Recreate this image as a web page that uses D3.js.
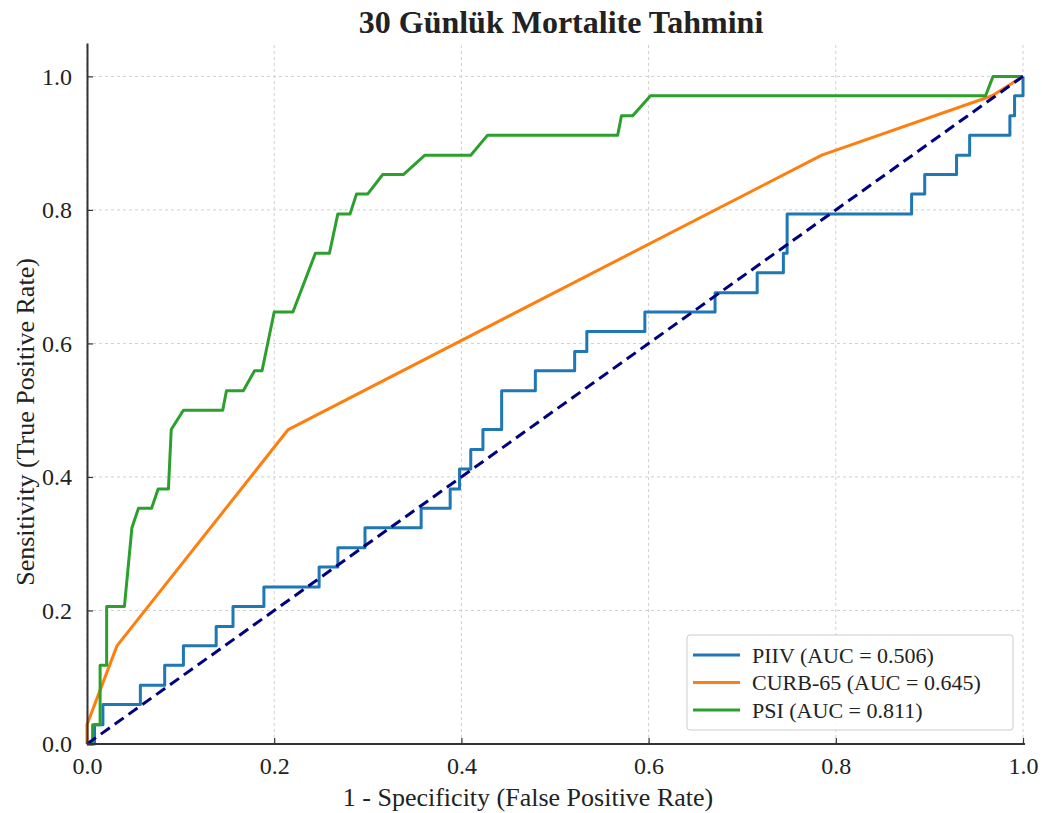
<!DOCTYPE html>
<html>
<head>
<meta charset="utf-8">
<script src="https://cdn.jsdelivr.net/npm/d3@7"></script>
<style>
	body { margin: 0; background: #fff; }
	text { font-family: "Liberation Serif", "Times New Roman", serif; fill: #222; }
</style>
</head>
<body>
<script>
'use strict';

// Chart values.
const titleText = "30 Günlük Mortalite Tahmini";
const xLabelText = "1 - Specificity (False Positive Rate)";
const yLabelText = "Sensitivity (True Positive Rate)";
const tickValues = [0, 0.2, 0.4, 0.6, 0.8, 1.0];

const seriesNames = ["PIIV", "CURB-65", "PSI"];
const seriesAuc = ["0.506", "0.645", "0.811"];
const seriesColors = ["#1f77b4", "#ff7f0e", "#2ca02c"];

const piivFpr = [0, 0.008, 0.008, 0.017, 0.017, 0.057, 0.057, 0.083, 0.083, 0.103, 0.103,
	0.138, 0.138, 0.156, 0.156, 0.189, 0.189, 0.248, 0.248, 0.268, 0.268, 0.297, 0.297,
	0.357, 0.357, 0.388, 0.388, 0.398, 0.398, 0.41, 0.41, 0.423, 0.423, 0.443, 0.443,
	0.479, 0.479, 0.521, 0.521, 0.534, 0.534, 0.596, 0.596, 0.671, 0.671, 0.716, 0.716,
	0.744, 0.744, 0.748, 0.748, 0.881, 0.881, 0.895, 0.895, 0.929, 0.929, 0.943, 0.943,
	0.986, 0.986, 0.991, 0.991, 1.0, 1.0];
const piivTpr = [0, 0, 0.029, 0.029, 0.059, 0.059, 0.088, 0.088, 0.118, 0.118, 0.147,
	0.147, 0.176, 0.176, 0.206, 0.206, 0.235, 0.235, 0.265, 0.265, 0.294, 0.294, 0.324,
	0.324, 0.353, 0.353, 0.382, 0.382, 0.412, 0.412, 0.441, 0.441, 0.471, 0.471, 0.529,
	0.529, 0.559, 0.559, 0.588, 0.588, 0.618, 0.618, 0.647, 0.647, 0.676, 0.676, 0.706,
	0.706, 0.735, 0.735, 0.794, 0.794, 0.824, 0.824, 0.853, 0.853, 0.882, 0.882, 0.912,
	0.912, 0.941, 0.941, 0.971, 0.971, 1.0];

const curbFpr = [0, 0, 0.032, 0.215, 0.785, 0.967, 1.0];
const curbTpr = [0, 0.029, 0.147, 0.471, 0.882, 0.971, 1.0];

const psiFpr = [0, 0.006, 0.006, 0.014, 0.014, 0.021, 0.021, 0.04, 0.048, 0.055, 0.069,
	0.076, 0.087, 0.09, 0.103, 0.145, 0.149, 0.167, 0.179, 0.187, 0.2, 0.22, 0.244, 0.259,
	0.268, 0.281, 0.288, 0.3, 0.316, 0.338, 0.361, 0.41, 0.428, 0.567, 0.571, 0.583,
	0.602, 0.96, 0.968, 1.0];
const psiTpr = [0, 0, 0.029, 0.029, 0.118, 0.118, 0.206, 0.206, 0.324, 0.353, 0.353,
	0.382, 0.382, 0.471, 0.5, 0.5, 0.529, 0.529, 0.559, 0.559, 0.647, 0.647, 0.735, 0.735,
	0.794, 0.794, 0.824, 0.824, 0.853, 0.853, 0.882, 0.882, 0.912, 0.912, 0.941, 0.941,
	0.971, 0.971, 1.0, 1.0];

const chanceLine = [0, 1];

// Draws the ROC figure into a fixed size svg.
class RocChart
{
	constructor(width, height)
	{
		this.width = width;
		this.height = height;
		this.svg = d3.select("body").append("svg")
			.attr("width", width)
			.attr("height", height);

		// Plot area in pixels; y runs a little above 1.0 like the reference.
		this.x = d3.scaleLinear().domain([0, 1]).range([87, 1023]);
		this.y = d3.scaleLinear().domain([0, 1.05]).range([744, 43]);

		this.DrawGrid();
		this.DrawCurves();
		this.DrawAxes();
		this.DrawLegend();
		this.DrawTexts();
	}

	DrawGrid()
	{
		let g = this.svg.append("g");
		g.selectAll("line.gx")
			.data(tickValues)
			.enter()
			.append("line")
			.attr("x1", d => this.x(d)).attr("x2", d => this.x(d))
			.attr("y1", this.y(0)).attr("y2", this.y(1.05))
			.attr("stroke", "#cfcfcf")
			.attr("stroke-width", 1)
			.attr("stroke-dasharray", "3,3");
		g.selectAll("line.gy")
			.data(tickValues)
			.enter()
			.append("line")
			.attr("x1", this.x(0)).attr("x2", this.x(1))
			.attr("y1", d => this.y(d)).attr("y2", d => this.y(d))
			.attr("stroke", "#cfcfcf")
			.attr("stroke-width", 1)
			.attr("stroke-dasharray", "3,3");
	}

	DrawCurves()
	{
		let line = d3.line()
			.x(d => this.x(d[0]))
			.y(d => this.y(d[1]));

		let series = [
			d3.zip(piivFpr, piivTpr),
			d3.zip(curbFpr, curbTpr),
			d3.zip(psiFpr, psiTpr)
		];

		let g = this.svg.append("g");
		g.selectAll("path.roc")
			.data(series)
			.enter()
			.append("path")
			.attr("class", "roc")
			.attr("d", line)
			.attr("fill", "none")
			.attr("stroke", (d, i) => seriesColors[i])
			.attr("stroke-width", 3)
			.attr("stroke-linejoin", "round");

		// Chance diagonal.
		g.append("path")
			.attr("d", line(d3.zip(chanceLine, chanceLine)))
			.attr("fill", "none")
			.attr("stroke", "#000080")
			.attr("stroke-width", 3)
			.attr("stroke-dasharray", "11,6");
	}

	DrawAxes()
	{
		let fmt = d3.format(".1f");

		let xAxis = d3.axisBottom(this.x)
			.tickValues(tickValues)
			.tickFormat(fmt)
			.tickSizeInner(-6)
			.tickSizeOuter(0)
			.tickPadding(13);
		let gx = this.svg.append("g")
			.attr("transform", "translate(0," + this.y(0) + ")")
			.call(xAxis);

		let yAxis = d3.axisLeft(this.y)
			.tickValues(tickValues)
			.tickFormat(fmt)
			.tickSizeInner(-6)
			.tickSizeOuter(0)
			.tickPadding(15);
		let gy = this.svg.append("g")
			.attr("transform", "translate(" + this.x(0) + ",0)")
			.call(yAxis);

		for (let g of [gx, gy])
		{
			g.select(".domain").attr("stroke", "#333").attr("stroke-width", 2);
			g.selectAll(".tick line").attr("stroke", "#333").attr("stroke-width", 1.2);
			g.selectAll(".tick text")
				.attr("font-family", "Liberation Serif, Times New Roman, serif")
				.attr("font-size", 24)
				.attr("fill", "#222");
		}
		// Bottom spine reaches just past 1.0 in the reference.
		gx.select(".domain").attr("d", "M" + this.x(0) + ",0H" + (this.x(1) + 2));
	}

	DrawLegend()
	{
		let g = this.svg.append("g").attr("transform", "translate(687,635)");
		g.append("rect")
			.attr("width", 326)
			.attr("height", 95)
			.attr("rx", 3)
			.attr("fill", "#fff")
			.attr("fill-opacity", 0.85)
			.attr("stroke", "#cccccc")
			.attr("stroke-width", 1);

		let rows = g.selectAll("g.row")
			.data(seriesNames)
			.enter()
			.append("g")
			.attr("transform", (d, i) => "translate(0," + (20 + i * 27.5) + ")");
		rows.append("line")
			.attr("x1", 6).attr("x2", 53)
			.attr("stroke", (d, i) => seriesColors[i])
			.attr("stroke-width", 3);
		rows.append("text")
			.attr("x", 65)
			.attr("dy", "0.35em")
			.attr("font-size", 22)
			.text((d, i) => d + " (AUC = " + seriesAuc[i] + ")");
	}

	DrawTexts()
	{
		this.svg.append("text")
			.attr("x", 561)
			.attr("y", 33)
			.attr("text-anchor", "middle")
			.attr("font-size", 32)
			.attr("font-weight", "bold")
			.text(titleText);

		this.svg.append("text")
			.attr("x", 528)
			.attr("y", 806)
			.attr("text-anchor", "middle")
			.attr("font-size", 26)
			.text(xLabelText);

		this.svg.append("text")
			.attr("transform", "translate(25,422) rotate(-90)")
			.attr("text-anchor", "middle")
			.attr("dy", "0.35em")
			.attr("font-size", 26)
			.text(yLabelText);
	}
}

let chart = new RocChart(1042, 813);
</script>
</body>
</html>
